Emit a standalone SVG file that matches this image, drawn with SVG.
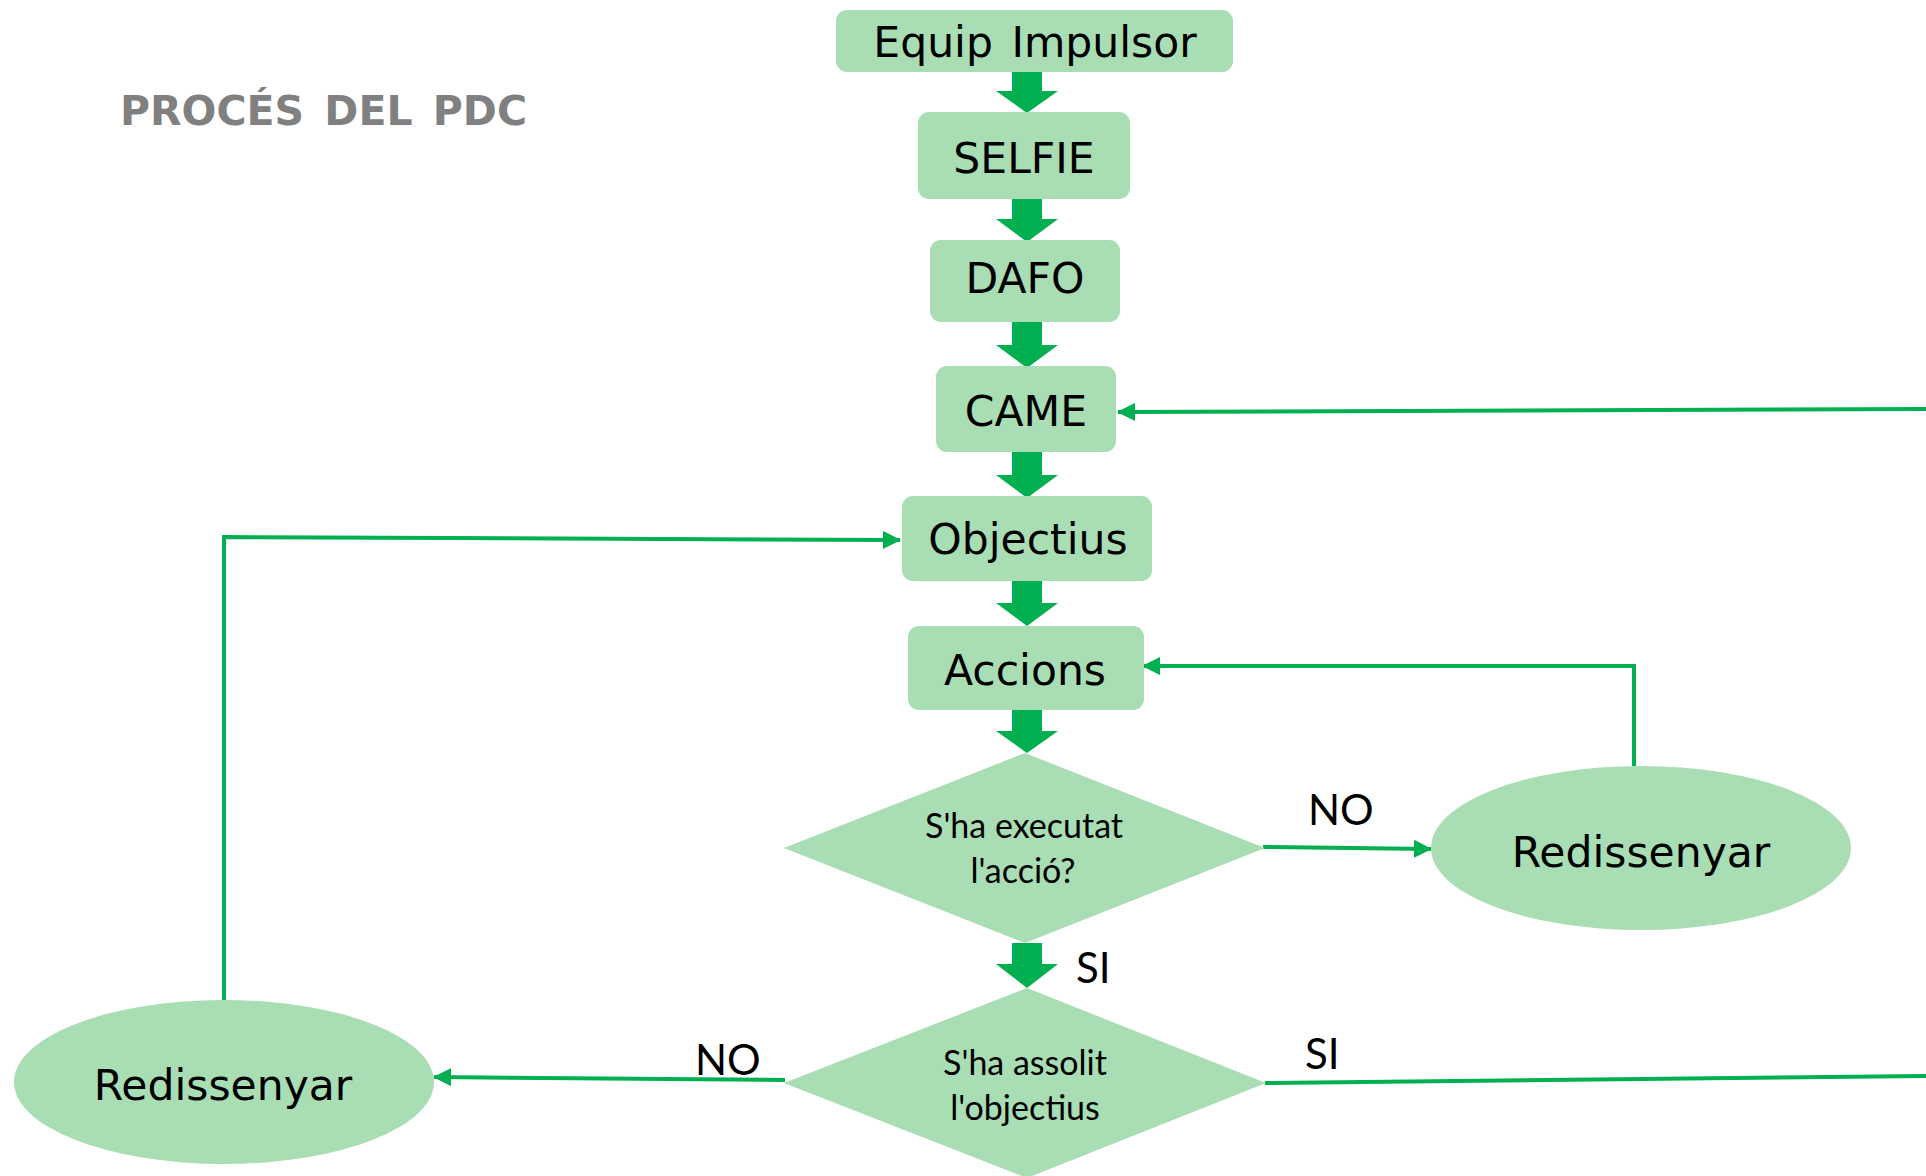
<svg xmlns="http://www.w3.org/2000/svg" width="1926" height="1176" viewBox="0 0 1926 1176">
<style>
.node{fill:#A9DDB3;}
.lbl{font-family:"DejaVu Sans","Verdana",sans-serif;font-size:42.5px;fill:#000;text-anchor:middle;}
.dtxt{font-family:Lato,"Carlito","Liberation Sans",sans-serif;font-size:34px;fill:#000;text-anchor:middle;}
.yn{font-family:Lato,"Carlito","Liberation Sans",sans-serif;font-size:42px;fill:#000;}
.title{font-family:"DejaVu Sans","Verdana",sans-serif;font-weight:bold;font-size:41px;fill:#808080;word-spacing:6px;}
.blk{fill:#00B050;}
.ln{fill:none;stroke:#00B050;stroke-width:4;marker-end:url(#ah);}
.ln0{fill:none;stroke:#00B050;stroke-width:4;}
</style>
<defs>
<marker id="ah" markerUnits="userSpaceOnUse" markerWidth="18" markerHeight="18" viewBox="0 0 18 18" refX="17" refY="9" orient="auto">
<path d="M0,0 L18,9 L0,18 z" fill="#00B050"/>
</marker>
</defs>
<rect width="1926" height="1176" fill="#fff"/>
<text class="title" x="120" y="125">PROCÉS DEL PDC</text>

<g id="connectors">
<path class="blk" d="M1012,72 H1042 V91 H1058 L1027,113 L996,91 H1012 Z"/>
<path class="blk" d="M1012,199 H1042 V219 H1058 L1027,242 L996,219 H1012 Z"/>
<path class="blk" d="M1012,322 H1042 V345 H1058 L1027,368 L996,345 H1012 Z"/>
<path class="blk" d="M1012,452 H1042 V475 H1058 L1027,498 L996,475 H1012 Z"/>
<path class="blk" d="M1012,580 H1042 V603 H1058 L1027,626 L996,603 H1012 Z"/>
<path class="blk" d="M1012,710 H1042 V731 H1058 L1027,753 L996,731 H1012 Z"/>
<path class="blk" d="M1012,943 H1042 V964 H1058 L1027,988 L996,964 H1012 Z"/>
<path class="ln" d="M1926,409 L1118,412"/>
<path class="ln" d="M224,1000 V537 L900,540"/>
<path class="ln" d="M1634,766 V666 H1143"/>
<path class="ln" d="M1263,847 L1431,849"/>
<path class="ln" d="M785,1080 L434,1077"/>
<path class="ln0" d="M1265,1083 L1926,1076"/>
</g>

<g id="equip"><rect class="node" x="836" y="10" width="397" height="62" rx="11"/><text class="lbl" x="1035" y="57" style="word-spacing:5px">Equip Impulsor</text></g>
<g id="selfie"><rect class="node" x="918" y="112" width="212" height="87" rx="11"/><text class="lbl" x="1024" y="173">SELFIE</text></g>
<g id="dafo"><rect class="node" x="930" y="240" width="190" height="82" rx="11"/><text class="lbl" x="1025" y="293">DAFO</text></g>
<g id="came"><rect class="node" x="936" y="366" width="180" height="86" rx="11"/><text class="lbl" x="1026" y="426">CAME</text></g>
<g id="objectius"><rect class="node" x="902" y="496" width="250" height="85" rx="11"/><text class="lbl" x="1028" y="554">Objectius</text></g>
<g id="accions"><rect class="node" x="908" y="626" width="236" height="84" rx="11"/><text class="lbl" x="1025" y="685">Accions</text></g>
<g id="executat"><polygon class="node" points="1025,753 1265,848 1025,943 784,848"/><text class="dtxt" x="1024" y="838">S'ha executat</text><text class="dtxt" x="1023" y="883">l'acció?</text></g>
<g id="assolit"><polygon class="node" points="1027,988 1266,1083 1027,1178 784,1083"/><text class="dtxt" x="1025" y="1075">S'ha assolit</text><text class="dtxt" x="1025" y="1120">l'objectius</text></g>
<g id="redis-right"><ellipse class="node" cx="1641" cy="848" rx="210" ry="82"/><text class="lbl" x="1641" y="867">Redissenyar</text></g>
<g id="redis-left"><ellipse class="node" cx="224" cy="1082" rx="210" ry="82"/><text class="lbl" x="223" y="1100">Redissenyar</text></g>

<text class="yn" x="1308" y="825">NO</text>
<text class="yn" x="695" y="1075">NO</text>
<text class="yn" x="1076" y="983">SI</text>
<text class="yn" x="1305" y="1069">SI</text>
</svg>
